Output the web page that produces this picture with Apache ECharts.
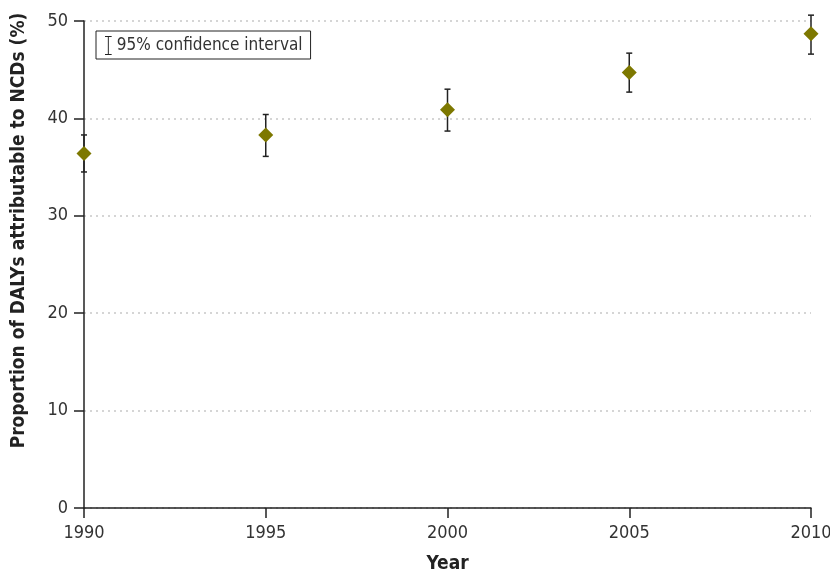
<!DOCTYPE html>
<html>
<head>
<meta charset="utf-8">
<script src="https://cdn.jsdelivr.net/npm/echarts@6/dist/echarts.min.js"></script>
<style>
  html, body { margin: 0; padding: 0; background: #fff; }
  #main { width: 830px; height: 575px; }
</style>
</head>
<body>
<div id="main"></div>
<script>
const years = [1990, 1995, 2000, 2005, 2010]
const proportion = [36.4, 38.3, 40.9, 44.7, 48.7]
const lower = [34.5, 36.1, 38.7, 42.7, 46.6]
const upper = [38.3, 40.4, 43.0, 46.7, 50.6]

const font = '"DejaVu Sans Condensed", "DejaVu Sans", sans-serif'
const ciName = '95% confidence interval'

const chart = echarts.init(document.getElementById('main'))

const points = years.map((y, i) => [y, proportion[i]])
const bars = years.map((y, i) => [y, lower[i], upper[i]])

const option = {
    animation: false,
    grid: { left: 84, right: 19, top: 21, bottom: 67, outerBoundsMode: 'none', containLabel: false },
    legend: {
        data: [{ name: ciName, icon: 'path://M0,0H7V1H4V19H7V20H0V19H3V1H0Z' }],
        left: 96,
        top: 31,
        orient: 'vertical',
        itemWidth: 7,
        itemHeight: 19,
        itemGap: 0,
        padding: [5, 8, 4, 9],
        borderColor: '#222',
        borderWidth: 1,
        borderRadius: 0,
        textStyle: { fontFamily: font, fontSize: 17, color: '#333' },
        selectedMode: false
    },
    xAxis: {
        type: 'value',
        min: 1990,
        max: 2010,
        interval: 5,
        name: 'Year',
        nameLocation: 'middle',
        nameGap: 47,
        nameTextStyle: { fontFamily: font, fontSize: 19, fontWeight: 'bold', color: '#222' },
        axisLine: { lineStyle: { color: '#222', width: 1.5 } },
        axisTick: { show: true, length: 10, lineStyle: { color: '#222', width: 1.5 } },
        axisLabel: {
            fontFamily: font, fontSize: 18, color: '#333', margin: 16,
            formatter: v => String(v)
        },
        splitLine: { show: false }
    },
    yAxis: {
        type: 'value',
        min: 0,
        max: 50,
        interval: 10,
        name: 'Proportion of DALYs attributable to NCDs (%)',
        nameLocation: 'middle',
        nameGap: 55,
        nameTextStyle: {
            fontFamily: font, fontSize: 19, fontWeight: 'bold', color: '#222',
            padding: [0, 0, 0, 68]
        },
        axisLine: { show: true, lineStyle: { color: '#222', width: 1.5 } },
        axisTick: { show: true, length: 10, lineStyle: { color: '#222', width: 1.5 } },
        axisLabel: { fontFamily: font, fontSize: 18, color: '#333', margin: 16 },
        splitLine: { show: true, lineStyle: { color: '#c8c8c8', type: [2, 4], width: 1.5 } }
    },
    series: [
        {
            name: ciName,
            type: 'custom',
            itemStyle: { color: '#222' },
            renderItem: function (params, api) {
                const x = api.value(0)
                const lo = api.coord([x, api.value(1)])
                const hi = api.coord([x, api.value(2)])
                const cap = 3
                const style = { stroke: '#222', lineWidth: 1.5 }
                return {
                    type: 'group',
                    children: [
                        { type: 'line', shape: { x1: lo[0], y1: lo[1], x2: hi[0], y2: hi[1] }, style },
                        { type: 'line', shape: { x1: lo[0] - cap, y1: lo[1], x2: lo[0] + cap, y2: lo[1] }, style },
                        { type: 'line', shape: { x1: hi[0] - cap, y1: hi[1], x2: hi[0] + cap, y2: hi[1] }, style }
                    ]
                }
            },
            encode: { x: 0, y: [1, 2] },
            data: bars,
            clip: false,
            z: 2
        },
        {
            name: 'Proportion',
            type: 'scatter',
            symbol: 'diamond',
            symbolSize: 15,
            itemStyle: { color: '#7d7800', opacity: 1 },
            data: points,
            clip: false,
            z: 3
        }
    ]
}

chart.setOption(option)
</script>
</body>
</html>
